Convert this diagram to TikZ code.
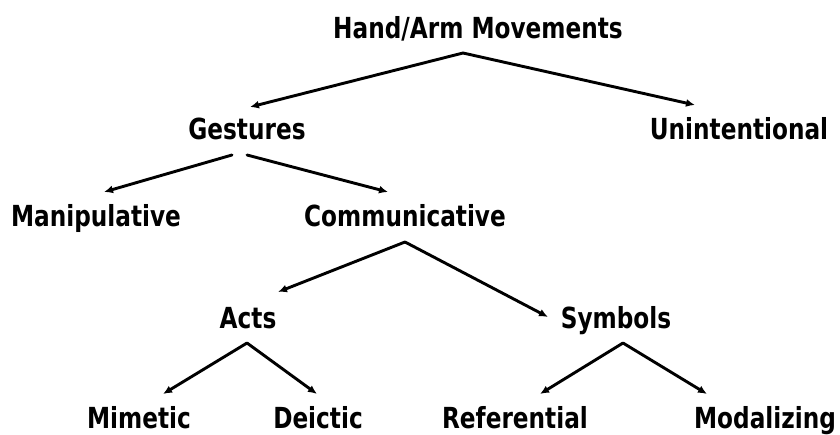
\documentclass[tikz,border=0pt]{standalone}
\usepackage{fontspec}
\setmainfont{DejaVu Sans}[FakeStretch=0.8]
\usetikzlibrary{arrows.meta}
\begin{document}
\begin{tikzpicture}[x=1pt,y=-1pt,
  lbl/.style={font=\bfseries\fontsize{29}{29}\selectfont, anchor=base, inner sep=0pt},
  link/.style={line width=2.9pt, line cap=round, -{Latex[length=9pt,width=8pt]}}]
\useasboundingbox (0,0) rectangle (840,435);

% labels, placed on their baselines
\node[lbl] (hand)  at (478,39)  {Hand/Arm Movements};
\node[lbl] (gest)  at (247,140) {Gestures};
\node[lbl] (unint) at (739,140) {Unintentional};
\node[lbl] (manip) at (96,227)  {Manipulative};
\node[lbl] (comm)  at (405,227) {Communicative};
\node[lbl] (acts)  at (248,328) {Acts};
\node[lbl] (symb)  at (616,328) {Symbols};
\node[lbl] (mim)   at (139,428) {Mimetic};
\node[lbl] (deic)  at (318,428) {Deictic};
\node[lbl] (ref)   at (515,428) {Referential};
\node[lbl] (modal) at (765,428) {Modalizing};

% branch points under each parent and arrow tips above each child
\coordinate (handB) at (463,53);
\coordinate (gestBL) at (232,155);
\coordinate (gestBR) at (247,155);
\coordinate (commB) at (405,242);
\coordinate (actsB) at (247,343);
\coordinate (symbB) at (623,343);

\coordinate (gestT)  at (250,107);
\coordinate (unintT) at (695,105);
\coordinate (manipT) at (104,192);
\coordinate (commT)  at (388,192);
\coordinate (actsT)  at (278,292);
\coordinate (symbT)  at (548,317);
\coordinate (mimT)   at (163,394);
\coordinate (deicT)  at (317,394);
\coordinate (refT)   at (540,394);
\coordinate (modalT) at (707,394);

\draw[link] (handB) -- (gestT);
\draw[link] (handB) -- (unintT);
\draw[link] (gestBL) -- (manipT);
\draw[link] (gestBR) -- (commT);
\draw[link] (commB) -- (actsT);
\draw[link] (commB) -- (symbT);
\draw[link] (actsB) -- (mimT);
\draw[link] (actsB) -- (deicT);
\draw[link] (symbB) -- (refT);
\draw[link] (symbB) -- (modalT);
\end{tikzpicture}
\end{document}
